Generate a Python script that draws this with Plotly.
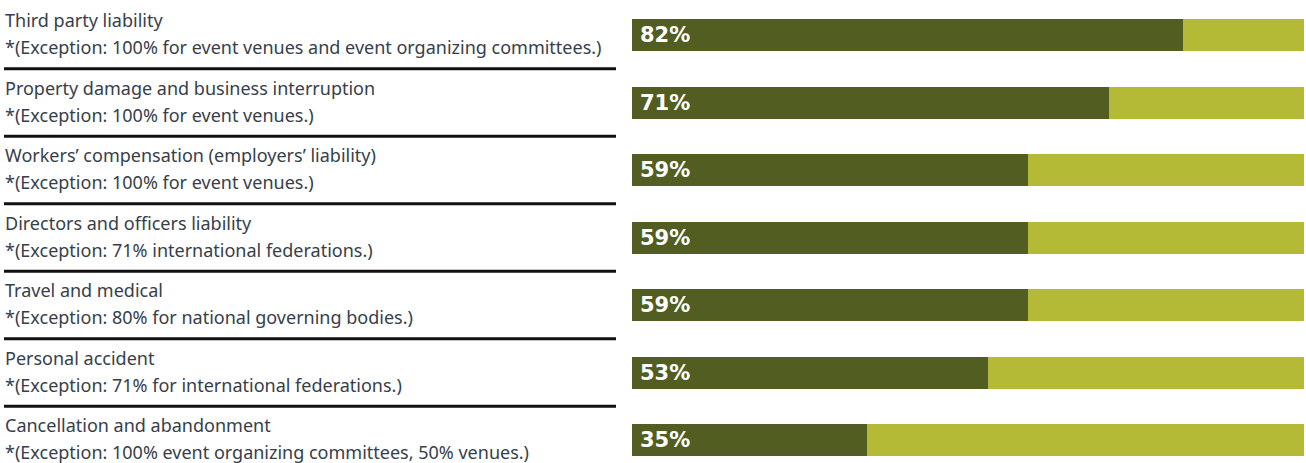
import plotly.graph_objects as go

categories = [
    "Third party liability",
    "Property damage and business interruption",
    "Workers\u2019 compensation (employers\u2019 liability)",
    "Directors and officers liability",
    "Travel and medical",
    "Personal accident",
    "Cancellation and abandonment",
]
exceptions = [
    "*(Exception: 100% for event venues and event organizing committees.)",
    "*(Exception: 100% for event venues.)",
    "*(Exception: 100% for event venues.)",
    "*(Exception: 71% international federations.)",
    "*(Exception: 80% for national governing bodies.)",
    "*(Exception: 71% for international federations.)",
    "*(Exception: 100% event organizing committees, 50% venues.)",
]
covered = [82, 71, 59, 59, 59, 53, 35]
remainder = [100 - v for v in covered]

DARK = "#525d22"
LIGHT = "#b4b936"
TEXT = "#36404a"

W, H = 1306, 463
rows = list(range(len(categories)))

fig = go.Figure()
fig.add_trace(go.Bar(
    y=rows, x=covered, orientation="h", marker_color=DARK,
    marker_line_width=0, width=0.474, hoverinfo="skip",
))
fig.add_trace(go.Bar(
    y=rows, x=remainder, orientation="h", marker_color=LIGHT,
    marker_line_width=0, width=0.474, hoverinfo="skip",
))

# percentage label at the start of each bar
for i, v in enumerate(covered):
    fig.add_annotation(x=0, y=i, xref="x", yref="y", text=f"<b>{v}%</b>",
                       showarrow=False, xanchor="left", yanchor="middle",
                       xshift=6, yshift=0,
                       font=dict(family="DejaVu Sans", size=21, color="white"))

# left-hand labels: coverage name and its exception note
for i, (name, note) in enumerate(zip(categories, exceptions)):
    fig.add_annotation(x=3 / W, y=i, xref="paper", yref="y", text=name,
                       showarrow=False, xanchor="left", yanchor="middle",
                       yshift=15, font=dict(family="Noto Sans", size=18, color=TEXT))
    fig.add_annotation(x=3 / W, y=i, xref="paper", yref="y", text=note,
                       showarrow=False, xanchor="left", yanchor="middle",
                       yshift=-12, font=dict(family="Noto Sans", size=18, color=TEXT))
    if i < len(categories) - 1:
        fig.add_shape(type="line", xref="paper", yref="y",
                      x0=4 / W, x1=616 / W, y0=i + 0.5, y1=i + 0.5,
                      line=dict(color="#111111", width=3))

fig.update_layout(
    width=W, height=H, barmode="stack", showlegend=False,
    margin=dict(l=0, r=0, t=0, b=0),
    paper_bgcolor="white", plot_bgcolor="white",
    xaxis=dict(domain=[632 / W, 1304 / W], range=[0, 100], visible=False,
               fixedrange=True),
    yaxis=dict(range=[(H - 35) / 67.5, -35 / 67.5], visible=False,
               fixedrange=True),
)

fig.write_html("out.html", config={"displayModeBar": False})
